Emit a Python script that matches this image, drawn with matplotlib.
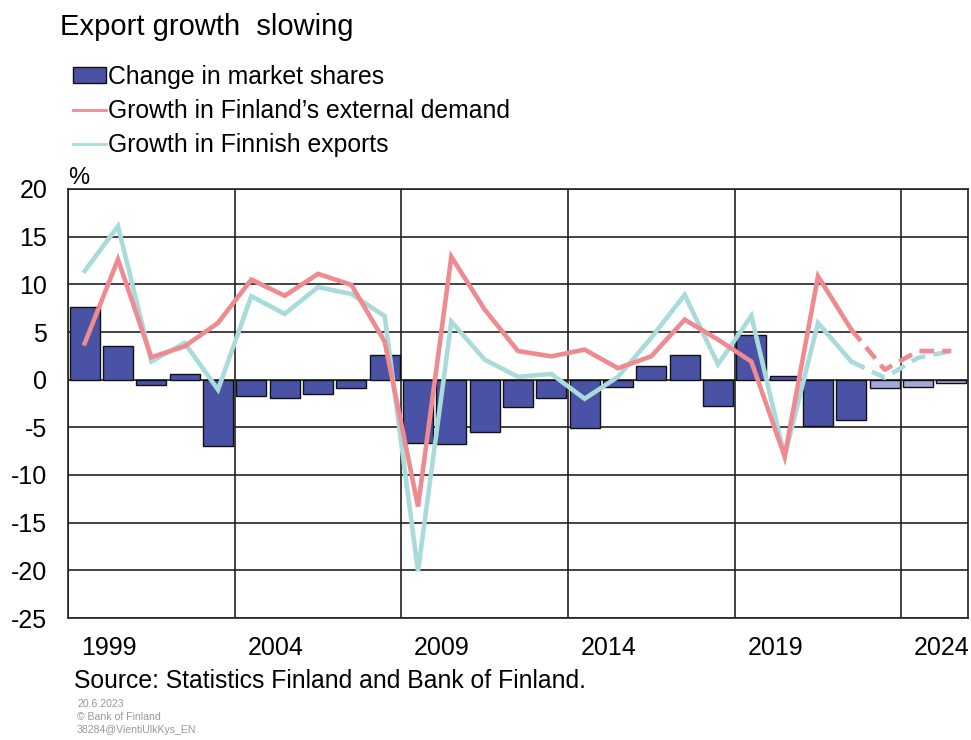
import matplotlib
matplotlib.use("Agg")
import matplotlib.pyplot as plt
from matplotlib.patches import Patch
from matplotlib.lines import Line2D
import numpy as np

plt.rcParams['font.family'] = ['Liberation Sans', 'DejaVu Sans']

years = list(range(1999, 2026))
market_share = [7.6, 3.5, -0.6, 0.6, -7.0, -1.75, -1.95, -1.5, -0.9, 2.6,
                -6.65, -6.7, -5.5, -2.9, -1.9, -5.1, -0.75, 1.4, 2.6, -2.8,
                4.65, 0.4, -4.9, -4.2, -0.9, -0.75, -0.3]
external_demand = [3.8, 12.6, 2.35, 3.5, 5.95, 10.5, 8.8, 11.1, 9.95, 4.0,
                   -13.3, 12.9, 7.35, 3.0, 2.45, 3.15, 1.2, 2.45, 6.3, 4.2,
                   1.9, -8.05, 10.85, 5.25, 1.05, 3.0, 3.0]
finnish_exports = [11.4, 16.1, 1.9, 3.85, -1.05, 8.75, 6.9, 9.7, 9.0, 6.65,
                   -20.1, 6.1, 2.1, 0.3, 0.6, -2.0, 0.3, 4.4, 8.9, 1.6,
                   6.7, -8.05, 5.95, 1.9, 0.2, 2.3, 3.0]
forecast_start = 2022  # lines dashed from this year, bars light from next year
tick_years = [1999, 2004, 2009, 2014, 2019, 2024]

bar_dark = '#4A52A6'
bar_light = '#A3A7D9'
red = '#EF8A90'
cyan = '#A9DBDB'

fig = plt.figure(figsize=(9.71, 7.40), dpi=100)
ax = fig.add_axes([68/971, 1-618/740, 900/971, (618-189)/740])

yrs = np.array(years)
ms = np.array(market_share)
colors = [bar_light if y > forecast_start else bar_dark for y in years]
ax.bar(yrs, ms, width=0.9, color=colors, edgecolor='#111111', linewidth=1.0, zorder=3)

ed = np.array(external_demand)
fe = np.array(finnish_exports)
hist = yrs <= forecast_start
fc = yrs >= forecast_start
lw = 3.3
ax.plot(yrs[hist], fe[hist], color=cyan, lw=lw, zorder=4, solid_joinstyle='miter')
ax.plot(yrs[fc], fe[fc], color=cyan, lw=lw, zorder=4, ls=(0, (3.2, 1.8)))
ax.plot(yrs[hist], ed[hist], color=red, lw=lw, zorder=5, solid_joinstyle='miter')
ax.plot(yrs[fc], ed[fc], color=red, lw=lw, zorder=5, ls=(0, (3.2, 1.8)))

ax.set_xlim(years[0] - 0.5, years[-1] + 0.5)
ax.set_ylim(-25, 20)
ax.set_yticks(np.arange(-25, 21, 5))
ax.set_yticklabels([str(v) for v in range(-25, 21, 5)])
ax.set_xticks([y + 0.72 for y in tick_years])
ax.set_xticklabels([str(y) for y in tick_years])
ax.set_xticks([y - 0.5 for y in tick_years], minor=True)
ax.tick_params(axis='both', which='both', length=0, labelsize=18, colors='black')
ax.tick_params(axis='y', pad=15)
ax.tick_params(axis='x', pad=13)
ax.grid(axis='y', which='major', color='#222222', lw=1.2, zorder=1)
ax.grid(axis='x', which='minor', color='#222222', lw=1.2, zorder=1)
for s in ax.spines.values():
    s.set_color('#222222')
    s.set_linewidth(1.2)

fig.text(60/971, 1-27/740, 'Export growth  slowing', fontsize=21, va='center', ha='left')
handles = [Patch(facecolor=bar_dark, edgecolor='#111111', lw=1.0),
           Line2D([], [], color=red, lw=2),
           Line2D([], [], color=cyan, lw=2)]
labels = ['Change in market shares', 'Growth in Finland\u2019s external demand', 'Growth in Finnish exports']
fig.legend(handles, labels, loc='upper left', bbox_to_anchor=(73/971, 1-65/740),
           frameon=False, fontsize=17.8, handlelength=1.35, handleheight=0.6,
           handletextpad=0.05, labelspacing=0.41, borderpad=0, borderaxespad=0)
fig.text(68/971, 1-178/740, '%', fontsize=17, va='center', ha='left')
fig.text(74/971, 1-681/740, 'Source: Statistics Finland and Bank of Finland.', fontsize=17.8, va='center', ha='left')
for i, t in enumerate(['20.6.2023', '\u00a9 Bank of Finland', '38284@VientiUlkKys_EN']):
    fig.text(77/971, 1-(704 + 13*i)/740, t, fontsize=7.6, color='#999999', va='center', ha='left')

fig.savefig('out.png', dpi=100)
